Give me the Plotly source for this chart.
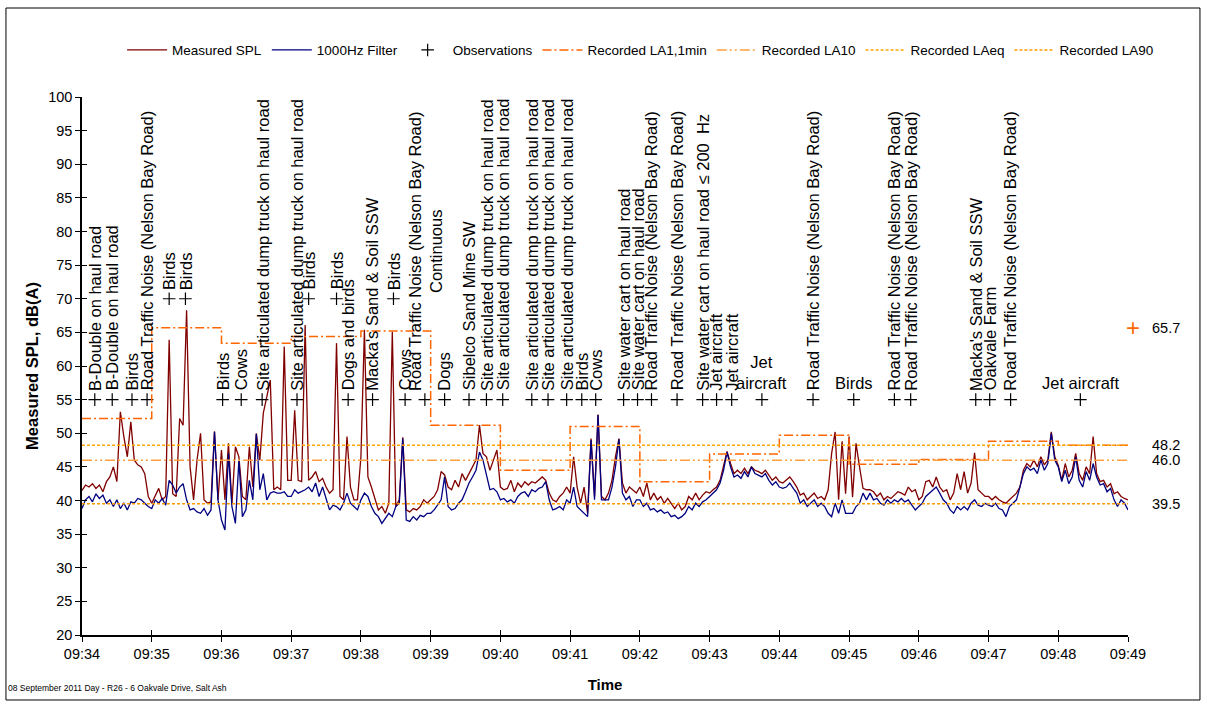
import pandas as pd
import plotly.graph_objects as go

# ---------------- data ----------------
start = "2011-09-08 09:34:00"

# Measured SPL, dB(A), 3-second samples from 09:34:00 to 09:49:00
spl = [
    41.5, 42.3, 42.0, 42.5, 41.8, 42.3, 41.3, 42.8, 43.5, 45.0, 42.8, 53.2, 49.5, 46.5, 51.7, 46.0, 45.3, 45.0, 44.0, 40.6,
    39.6, 40.6, 41.8, 40.1, 40.6, 63.9, 41.0, 40.6, 52.2, 51.2, 68.3, 45.0, 40.1, 46.0, 50.0, 40.1, 39.6, 39.8, 50.3, 40.1,
    47.5, 40.1, 48.5, 39.5, 48.0, 46.5, 40.6, 40.1, 48.0, 42.0, 50.0, 46.0, 53.0, 55.4, 57.9, 41.6, 42.0, 41.6, 62.9, 43.0,
    43.0, 53.4, 43.0, 42.8, 66.1, 43.0, 43.5, 44.3, 42.8, 43.3, 42.0, 41.1, 41.6, 63.4, 40.6, 40.1, 49.5, 42.0, 40.1, 40.1,
    46.5, 65.4, 43.5, 42.0, 40.1, 38.6, 39.1, 38.1, 39.6, 65.1, 39.1, 40.1, 49.4, 38.6, 38.3, 38.8, 38.6, 39.1, 40.1, 39.6,
    40.1, 40.6, 41.6, 44.3, 43.8, 42.0, 41.6, 43.0, 42.0, 44.0, 43.0, 44.0, 45.0, 46.0, 51.2, 47.0, 46.5, 44.5, 46.0, 47.5,
    42.0, 41.6, 41.8, 43.0, 41.3, 42.6, 42.0, 42.8, 42.3, 42.8, 42.6, 43.0, 43.5, 43.0, 41.1, 40.1, 39.8, 40.6, 41.1, 42.0,
    41.1, 46.5, 42.0, 39.6, 42.0, 38.1, 49.2, 40.6, 52.8, 40.6, 40.1, 41.1, 43.0, 46.5, 49.2, 42.6, 41.1, 42.0, 41.6, 41.1,
    42.0, 40.6, 42.6, 40.1, 41.1, 40.1, 40.6, 39.6, 40.3, 39.6, 38.8, 39.6, 38.6, 39.1, 40.6, 40.1, 41.1, 40.1, 40.8, 41.3,
    41.1, 41.6, 42.0, 43.0, 45.0, 47.3, 45.5, 44.0, 44.5, 44.0, 44.8, 44.0, 45.0, 44.5, 44.3, 44.0, 44.5, 43.8, 43.0, 43.5,
    42.8, 42.6, 43.0, 43.5, 42.8, 42.0, 40.8, 41.1, 40.1, 40.6, 41.1, 40.3, 40.6, 40.1, 41.6, 47.0, 50.2, 40.1, 48.8, 41.0,
    49.5, 40.5, 48.5, 45.0, 41.8, 41.6, 41.6, 41.3, 40.6, 41.1, 40.1, 40.6, 40.3, 40.8, 41.3, 41.1, 40.8, 42.0, 41.3, 41.6,
    40.1, 40.6, 42.8, 43.0, 42.0, 43.5, 42.0, 41.3, 41.6, 40.1, 41.1, 44.0, 41.6, 44.3, 41.1, 42.6, 47.1, 41.6, 41.1, 40.6,
    40.6, 40.1, 40.6, 40.1, 39.8, 39.6, 40.1, 40.6, 41.1, 42.0, 44.5, 45.5, 45.0, 46.0, 45.0, 46.5, 45.3, 46.0, 50.2, 46.5,
    45.2, 43.0, 45.5, 43.5, 44.5, 47.0, 44.0, 43.0, 45.0, 44.0, 49.5, 44.0, 42.8, 43.0, 42.0, 42.5, 41.0, 41.3, 40.6, 40.3,
    40.1,
]

# 1000 Hz filtered level, dB, same sampling
filt_1000 = [
    38.8, 40.1, 40.6, 39.8, 41.0, 40.3, 40.8, 39.6, 40.1, 39.1, 40.1, 38.8, 39.6, 38.6, 39.8, 39.6, 40.3, 40.1, 39.6, 39.1,
    38.8, 40.1, 39.6, 40.3, 39.3, 43.0, 42.3, 41.1, 42.0, 42.5, 40.1, 38.6, 38.8, 38.3, 38.1, 38.8, 37.8, 38.6, 50.2, 40.1,
    37.1, 35.6, 47.0, 39.1, 36.6, 46.0, 37.6, 38.6, 43.0, 40.1, 49.9, 41.6, 44.0, 40.1, 41.1, 41.3, 41.1, 41.1, 41.3, 40.6,
    40.6, 41.6, 41.1, 41.3, 41.6, 42.0, 41.3, 42.6, 40.6, 42.0, 40.1, 38.6, 39.3, 39.1, 38.6, 39.6, 41.1, 39.6, 39.1, 38.6,
    40.1, 41.1, 40.6, 39.1, 38.1, 37.6, 36.6, 37.3, 38.1, 37.6, 39.1, 39.6, 49.2, 37.1, 36.9, 37.6, 37.1, 37.8, 37.6, 38.1,
    38.1, 38.6, 39.3, 40.1, 43.5, 39.1, 38.6, 38.8, 39.6, 40.1, 41.3, 42.6, 43.5, 44.5, 47.2, 46.0, 43.8, 41.6, 41.8, 41.3,
    40.1, 40.3, 39.8, 40.1, 39.6, 40.6, 41.1, 41.3, 40.6, 41.6, 41.3, 41.8, 42.0, 42.8, 40.1, 38.6, 38.8, 39.1, 38.6, 40.1,
    39.6, 42.0, 39.1, 38.6, 38.1, 37.6, 49.0, 40.1, 52.7, 40.1, 40.1, 40.1, 42.0, 45.0, 49.1, 41.1, 40.1, 40.6, 39.1, 40.1,
    40.1, 39.1, 39.6, 38.6, 38.8, 38.3, 38.6, 38.1, 38.3, 37.6, 37.8, 37.3, 37.6, 38.1, 39.1, 38.6, 39.6, 39.1, 39.8, 40.1,
    40.6, 41.1, 41.6, 42.6, 44.5, 47.2, 45.0, 43.5, 43.8, 43.3, 44.3, 43.5, 45.0, 44.0, 43.8, 43.5, 44.0, 43.0, 42.3, 42.8,
    42.0, 41.8, 42.0, 42.6, 41.8, 41.1, 39.6, 40.1, 39.1, 39.6, 40.1, 39.1, 39.6, 39.1, 38.1, 37.6, 39.6, 38.1, 40.1, 38.1,
    38.1, 38.1, 39.1, 39.6, 41.1, 40.1, 41.1, 40.1, 40.3, 39.6, 39.3, 40.1, 39.6, 40.1, 39.8, 40.3, 39.8, 40.1, 39.3, 38.6,
    39.1, 39.6, 40.6, 41.1, 41.6, 42.0, 41.1, 40.1, 39.6, 38.6, 38.1, 39.1, 38.6, 39.1, 38.6, 39.6, 40.1, 39.3, 39.1, 39.6,
    39.3, 39.1, 39.6, 38.8, 38.6, 37.6, 39.1, 39.6, 40.1, 42.0, 44.0, 45.0, 44.5, 44.8, 44.0, 46.0, 44.5, 45.5, 50.0, 46.0,
    45.0, 42.8, 44.5, 42.5, 43.5, 46.5, 43.0, 42.0, 44.3, 43.0, 45.5, 43.5, 42.3, 42.5, 41.3, 41.8, 40.1, 39.1, 40.1, 39.6,
    38.6,
]

# Recorded LA1 for each 1-minute interval 09:34 ... 09:48
la1_1min = [52.2, 65.7, 63.4, 64.4, 65.2, 51.2, 44.5, 51.0, 42.8, 46.9, 49.7, 45.4, 46.1, 48.8, 48.2]
la10 = 46.0
laeq = 48.2
la90 = 39.5

# Observations
obs_times = [
    "09:34:11", "09:34:26", "09:34:43", "09:34:56", "09:35:15", "09:35:29", "09:36:01", "09:36:17",
    "09:36:35", "09:37:05", "09:37:15", "09:37:39", "09:37:49", "09:38:10", "09:38:28", "09:38:38",
    "09:38:55", "09:39:12", "09:39:33", "09:39:48", "09:40:02", "09:40:27", "09:40:41", "09:40:57",
    "09:41:10", "09:41:22", "09:41:46", "09:41:58", "09:42:10", "09:42:32", "09:42:54", "09:43:06",
    "09:43:19", "09:43:45", "09:44:29", "09:45:04", "09:45:39", "09:45:53", "09:46:49", "09:47:01",
    "09:47:19", "09:48:19",
]
obs_levels = [
    55, 55, 55, 55, 70, 70, 55, 55,
    55, 55, 70, 70, 55, 55, 70, 55,
    55, 55, 55, 55, 55, 55, 55, 55,
    55, 55, 55, 55, 55, 55, 55, 55,
    55, 55, 55, 55, 55, 55, 55, 55,
    55, 55,
]
RTN = "Road Traffic Noise (Nelson Bay Road)"
SADT = "Site articulated dump truck on haul road"
obs_labels = [
    "B-Double on haul road", "B-Double on haul road", "Birds", RTN, "Birds", "Birds", "Birds", "Cows",
    SADT, SADT, "Birds", "Birds", "Dogs and birds", "Macka's Sand & Soil SSW", "Birds", "Cows",
    RTN + "<br>Continuous", "Dogs", "Sibelco Sand Mine SW", SADT, SADT, SADT, SADT, SADT,
    "Birds", "Cows", "Site water cart on haul road", "Site water cart on haul road", RTN, RTN,
    "Site water cart on haul road ≤ 200  Hz", "Jet aircraft",
    "Jet aircraft", "Jet<br>aircraft", RTN, "Birds", RTN, RTN, "Macka's Sand & Soil SSW", "Oakvale Farm",
    RTN, "Jet aircraft",
]
horizontal_label_idx = {33, 35, 41}

day = "2011-09-08 "
times = pd.date_range(start, periods=len(spl), freq="3s")
minute_edges = pd.date_range(start, periods=len(la1_1min) + 1, freq="1min")
obs_x = pd.to_datetime([day + t for t in obs_times])

FONT = "Liberation Sans, Arial, sans-serif"
C_LA1 = "#FF6600"
C_LA10 = "#FFA040"
C_LAEQ = "#FFA500"
C_LA90 = "#FF9900"

fig = go.Figure()
fig.add_trace(go.Scatter(x=times, y=spl, mode="lines", name="Measured SPL",
                         line=dict(color="#800000", width=1.3)))
fig.add_trace(go.Scatter(x=times, y=filt_1000, mode="lines", name="1000Hz Filter",
                         line=dict(color="#000080", width=1.3)))
fig.add_trace(go.Scatter(x=obs_x, y=obs_levels, mode="markers", name="Observations",
                         marker=dict(symbol="cross-thin", size=9, color="black",
                                     line=dict(color="black", width=1.2))))
fig.add_trace(go.Scatter(x=minute_edges, y=la1_1min + [la1_1min[-1]], mode="lines",
                         name="Recorded LA1,1min", line_shape="hv",
                         line=dict(color=C_LA1, width=1.5, dash="9px,3px,2px,3px")))
edges = [minute_edges[0], minute_edges[-1]]
fig.add_trace(go.Scatter(x=edges, y=[la10, la10], mode="lines", name="Recorded LA10",
                         line=dict(color=C_LA10, width=1.5, dash="10px,3px,2px,3px,2px,3px")))
fig.add_trace(go.Scatter(x=edges, y=[laeq, laeq], mode="lines", name="Recorded LAeq",
                         line=dict(color=C_LAEQ, width=1.5, dash="3px,2px")))
fig.add_trace(go.Scatter(x=edges, y=[la90, la90], mode="lines", name="Recorded LA90",
                         line=dict(color=C_LA90, width=1.5, dash="3px,2px")))
# helper trace for the inner tick axes
fig.add_trace(go.Scatter(x=[times[0]], y=[20], xaxis="x2", yaxis="y2", mode="markers",
                         marker=dict(opacity=0), showlegend=False, hoverinfo="skip"))

annotations = []
for i, (tx, lv, lab) in enumerate(zip(obs_x, obs_levels, obs_labels)):
    horiz = i in horizontal_label_idx
    annotations.append(dict(
        x=tx, y=lv, xref="x", yref="y", text=lab, showarrow=False,
        textangle=0 if horiz else -90, xanchor="center", yanchor="bottom",
        yshift=6 if horiz else 7, align="center",
        font=dict(family=FONT, size=16.5, color="black")))

for val in [laeq, la10, la90]:
    annotations.append(dict(x=1.021, xref="paper", y=val, yref="y", text=f"{val:.1f}",
                            showarrow=False, xanchor="left", yanchor="middle",
                            font=dict(family=FONT, size=14.5, color="black")))
# maximum LA1 value shown beyond the end of the axis
la1_max = max(la1_1min)
annotations.append(dict(x=1.0048, xref="paper", y=la1_max, yref="y", text="+",
                        showarrow=False, xanchor="center", yanchor="middle",
                        font=dict(family=FONT, size=24, color=C_LA1)))
annotations.append(dict(x=1.021, xref="paper", y=la1_max, yref="y",
                        text=f"{la1_max:.1f}", showarrow=False, xanchor="left",
                        yanchor="middle", font=dict(family=FONT, size=14.5, color="black")))
annotations.append(dict(x=-0.0725, xref="paper", y=-0.099, yref="paper",
                        text="08 September 2011 Day - R26 - 6 Oakvale Drive, Salt Ash",
                        showarrow=False, xanchor="left", yanchor="middle",
                        font=dict(family=FONT, size=8.5, color="black")))

xrange_ = [minute_edges[0], minute_edges[-1]]
fig.update_layout(
    width=1206, height=702,
    margin=dict(l=82, r=78, t=97, b=67),
    paper_bgcolor="white", plot_bgcolor="white",
    font=dict(family=FONT, size=14.5, color="black"),
    showlegend=True,
    legend=dict(orientation="h", x=0.534, xanchor="center", y=1.087, yanchor="middle",
                font=dict(family=FONT, size=13.5), itemwidth=40, bgcolor="rgba(0,0,0,0)"),
    xaxis=dict(type="date", range=xrange_, tickformat="%H:%M", dtick=60000,
               ticks="outside", ticklen=5, tickcolor="black", tickwidth=1.3,
               showline=True, linecolor="black", linewidth=1.5, showgrid=False, zeroline=False,
               tickfont=dict(family=FONT, size=14.5),
               title=dict(text="<b>Time</b>", standoff=18, font=dict(family=FONT, size=15))),
    yaxis=dict(range=[20, 100], dtick=5, ticks="outside", ticklen=5, tickcolor="black",
               tickwidth=1.3, showline=True, linecolor="black", linewidth=1.5,
               showgrid=False, zeroline=False, tickfont=dict(family=FONT, size=14.5),
               title=dict(text="<b>Measured SPL, dB(A)</b>", standoff=5,
                          font=dict(family=FONT, size=16.5))),
    xaxis2=dict(type="date", overlaying="x", range=xrange_, dtick=60000, ticks="inside",
                ticklen=5, tickcolor="black", tickwidth=1.3, showticklabels=False,
                showline=False, showgrid=False, zeroline=False, side="bottom"),
    yaxis2=dict(overlaying="y", range=[20, 100], dtick=5, ticks="inside", ticklen=5,
                tickcolor="black", tickwidth=1.3, showticklabels=False, showline=False,
                showgrid=False, zeroline=False, side="left"),
    annotations=annotations,
    shapes=[dict(type="rect", xref="paper", yref="paper", x0=-0.0727, x1=1.0688,
                 y0=-0.1208, y1=1.1654, line=dict(color="black", width=1), layer="below")],
)

fig.write_html("out.html")
